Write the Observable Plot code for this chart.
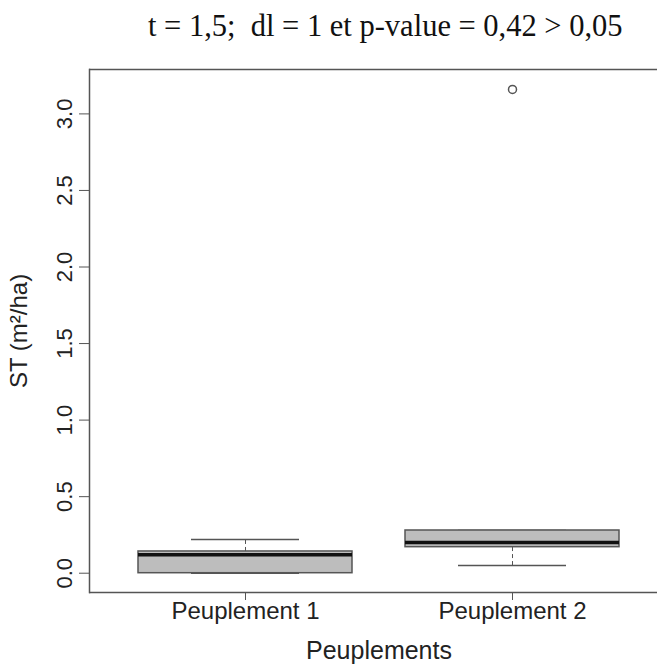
<!DOCTYPE html>
<html>
<head>
<meta charset="utf-8">
<script src="https://cdn.jsdelivr.net/npm/d3@7"></script>
<script src="https://cdn.jsdelivr.net/npm/@observablehq/plot@0.6"></script>
<style>
  html, body { margin: 0; padding: 0; background: #fff; overflow: hidden; }
  #title { height: 60px; box-sizing: border-box; padding-top: 9px; padding-left: 148px;
           font-family: "Liberation Serif", "Times New Roman", serif; font-size: 30.5px; color: #111; white-space: pre; }
  #chart svg { overflow: hidden; display: block; }
</style>
</head>
<body>
<div id="title">t = 1,5;  dl = 1 et p-value = 0,42 &gt; 0,05</div>
<div id="chart"></div>
<script>
const categories = ["Peuplement 1", "Peuplement 2"];
const q1 = [0.0, 0.17];
const median = [0.12, 0.20];
const q3 = [0.142, 0.279];
const whiskerLow = [0.0, 0.05];
const whiskerHigh = [0.22, 0.279];
const outlierCats = ["Peuplement 2"];
const outlierValues = [3.16];
const yTicks = [0, 0.5, 1.0, 1.5, 2.0, 2.5, 3.0];
const yDomain = [-0.126, 3.29];

const boxes = categories.map((c, i) => ({
  cat: c, q1: q1[i], med: median[i], q3: q3[i], lo: whiskerLow[i], hi: whiskerHigh[i]
}));
const outliers = outlierCats.map((c, i) => ({cat: c, value: outlierValues[i]}));

const ink = "#555";
const chart = Plot.plot({
  width: 657,
  height: 612,
  marginTop: 9,
  marginBottom: 80,
  marginLeft: 89,
  marginRight: -11,
  style: {fontFamily: "'Liberation Sans', Arial, sans-serif", fontSize: "24px", color: "#222", background: "#fff"},
  x: {type: "band", domain: categories, paddingInner: 0.2, paddingOuter: 0.182},
  y: {domain: yDomain},
  marks: [
    Plot.ruleY(yDomain, {stroke: ink, strokeWidth: 1.5}),
    Plot.frame({anchor: "left", stroke: ink, strokeWidth: 1.5}),
    // whiskers (dashed)
    Plot.ruleX(boxes.filter(d => d.hi > d.q3), {x: "cat", y1: "q3", y2: "hi", stroke: ink, strokeDasharray: "4,3"}),
    Plot.ruleX(boxes.filter(d => d.lo < d.q1), {x: "cat", y1: "lo", y2: "q1", stroke: ink, strokeDasharray: "4,3"}),
    // staples
    Plot.tickY(boxes, {x: "cat", y: "hi", stroke: ink, strokeWidth: 1.5, insetLeft: 53, insetRight: 53}),
    Plot.tickY(boxes, {x: "cat", y: "lo", stroke: ink, strokeWidth: 1.5, insetLeft: 53, insetRight: 53}),
    // boxes
    Plot.barY(boxes, {x: "cat", y1: "q1", y2: "q3", fill: "#bdbdbd", stroke: ink, strokeWidth: 1.5}),
    // medians
    Plot.tickY(boxes, {x: "cat", y: "med", stroke: "#111", strokeWidth: 3.5}),
    // outliers
    Plot.dot(outliers, {x: "cat", y: "value", r: 4, stroke: ink, strokeWidth: 1.5, fill: "none"}),
    Plot.axisY({ticks: yTicks, tickFormat: d => d.toFixed(1), tickRotate: -90, tickSize: 10, tickPadding: 8,
                fontSize: 22, label: null, stroke: ink, fill: "#222"}),
    Plot.axisY({ticks: [], label: "ST (m²/ha)", labelAnchor: "center", labelArrow: "none", labelOffset: 80,
                fontSize: 24, fill: "#222"}),
    Plot.axisX({tickSize: 8, tickPadding: 1, label: null, stroke: ink, fill: "#222"}),
    Plot.axisX({ticks: [], label: "Peuplements", labelAnchor: "center", labelArrow: "none",
                labelOffset: 66, fontSize: 25, fill: "#222"})
  ]
});
document.getElementById("chart").appendChild(chart);
</script>
</body>
</html>
